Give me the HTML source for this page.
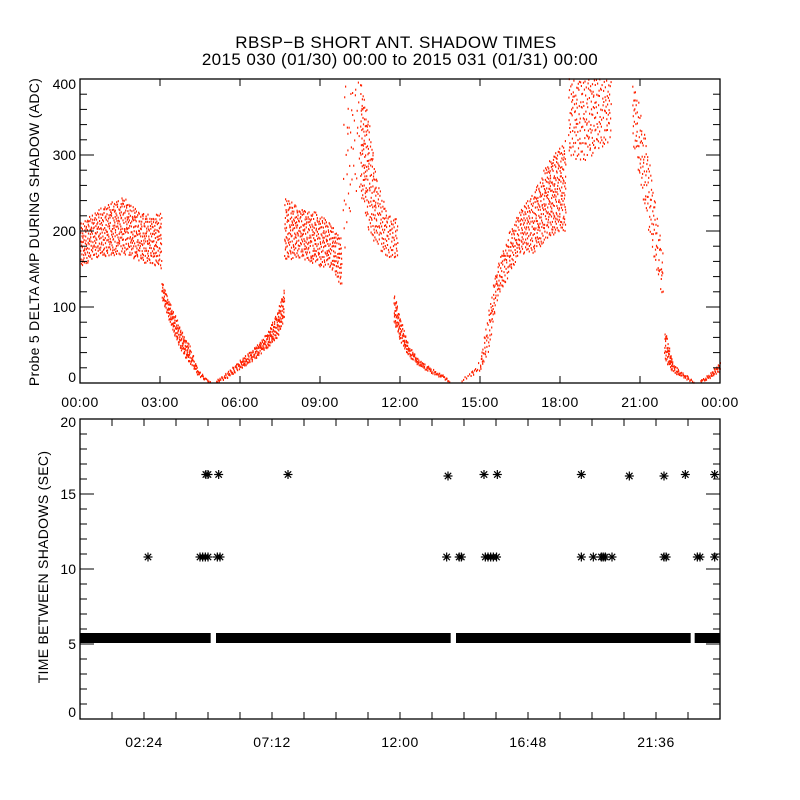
<!DOCTYPE html>
<html><head><meta charset="utf-8"><style>
body{margin:0;background:#fff}
svg{display:block;font-family:"Liberation Sans",sans-serif}
text{fill:#000}
</style></head><body>
<svg id="chart" width="800" height="800" viewBox="0 0 800 800" xmlns="http://www.w3.org/2000/svg">
<rect width="800" height="800" fill="#fff"/>
<text x="396" y="48" font-size="17" letter-spacing="0.4" text-anchor="middle">RBSP−B SHORT ANT. SHADOW TIMES</text>
<text x="400" y="65" font-size="17" letter-spacing="0.4" text-anchor="middle">2015 030 (01/30) 00:00 to 2015 031 (01/31) 00:00</text>
<g id="topPanel"></g>
<g id="botPanel"></g>
<text transform="translate(39,232) rotate(-90)" font-size="14" letter-spacing="0.3" text-anchor="middle">Probe 5 DELTA AMP DURING SHADOW (ADC)</text>
<text transform="translate(48,567) rotate(-90)" font-size="14" letter-spacing="0.3" text-anchor="middle">TIME BETWEEN SHADOWS (SEC)</text>
</svg>
<script>
// ---- top panel data: band segments (hours, low ADC, high ADC, fill fraction)
const segTimes = [
 [0,0.5,1,1.6,2.2,2.7,3.05],
 [3.05,3.3,3.6,3.9,4.1,4.4,4.7,4.88],
 [5.1,5.5,6.0,6.5,7.0,7.4,7.65],
 [7.65,8.2,8.8,9.4,9.8],
 [9.85,10.2,10.5],
 [10.5,10.8,11.1,11.5,11.9],
 [11.75,12.0,12.3,12.7,13.2,13.6,13.85],
 [14.25,14.7,15.0,15.3,15.6,16.1,16.5,17.0,17.5,18.2],
 [18.3,18.8,19.3,19.9],
 [20.7,21.0,21.3,21.6,21.85],
 [21.9,22.2,22.5,22.8,23.0],
 [23.25,23.6,24]
];
const segLow = [
 [150,165,165,170,160,155,150],
 [110,85,55,35,25,10,3,0],
 [0,6,18,30,45,60,85],
 [160,165,155,150,125],
 [150,250,250],
 [250,200,180,165,160],
 [80,55,35,22,12,6,0],
 [0,10,15,40,105,145,170,170,190,200],
 [300,290,300,320],
 [320,260,200,150,100],
 [30,15,8,3,0],
 [0,6,15]
];
const segHigh = [
 [210,225,235,245,225,220,225],
 [135,110,85,60,50,18,6,2],
 [3,14,30,45,65,95,125],
 [245,230,225,210,190],
 [390,400,400],
 [400,350,270,225,215],
 [120,85,50,30,18,10,3],
 [3,16,30,95,150,200,230,250,290,320],
 [400,400,400,400],
 [400,360,300,230,170],
 [75,28,15,8,2],
 [3,12,28]
];
const segFill = [0.28,0.55,0.55,0.28,0.04,0.2,0.55,0.25,0.14,0.14,0.55,0.6];
const topXTicks = ["00:00","03:00","06:00","09:00","12:00","15:00","18:00","21:00","00:00"];
const topYTicks = [0,100,200,300,400];

// ---- bottom panel data
const bandValue = 5.4;
const bandStart = [0,5.1,14.1,23.05];
const bandEnd = [4.9,13.9,22.9,24];
const starT = [4.72,4.8,5.2,7.8,13.8,15.15,15.65,18.8,20.6,21.9,22.7,23.8,
               2.55,4.5,4.6,4.7,4.8,5.15,5.25,13.75,14.22,14.3,15.2,15.3,15.4,15.5,15.62,18.8,19.25,19.55,19.62,19.7,19.95,21.9,21.98,23.15,23.25,23.8];
const starV = [16.3,16.3,16.3,16.3,16.2,16.3,16.3,16.3,16.2,16.2,16.3,16.3,
               10.8,10.8,10.8,10.8,10.8,10.8,10.8,10.8,10.8,10.8,10.8,10.8,10.8,10.8,10.8,10.8,10.8,10.8,10.8,10.8,10.8,10.8,10.8,10.8,10.8,10.8];
const botXLabels = ["02:24","07:12","12:00","16:48","21:36"];
const botYTicks = [0,5,10,15,20];

const NS="http://www.w3.org/2000/svg";
function mk(parent,tag,attrs){const e=document.createElementNS(NS,tag);for(const k in attrs)e.setAttribute(k,attrs[k]);parent.appendChild(e);return e;}

const X0=80,X1=720;
const T0=79,T1=383, B0=419,B1=719;
const xs=t=>X0+t/24*(X1-X0);
const yTop=v=>T1-v/400*(T1-T0);
const yBot=v=>B1-v/20*(B1-B0);

const topG=document.getElementById('topPanel');
const botG=document.getElementById('botPanel');

// ---- top panel dots
const dots=mk(topG,'g',{fill:'#ff2200'});


function halton(i,b){let f=1,r=0;while(i>0){f/=b;r+=f*(i%b);i=Math.floor(i/b);}return r;}
let hIdx=1;
for(let s=0;s<segTimes.length;s++){
  const T=segTimes[s],L=segLow[s],H=segHigh[s];
  for(let k=0;k<T.length-1;k++){
    const xa=xs(T[k]),xb=xs(T[k+1]);
    const avgH=((yTop(L[k])-yTop(H[k]))+(yTop(L[k+1])-yTop(H[k+1])))/2+2;
    const n=Math.round((xb-xa)*avgH*segFill[s]/2);
    for(let i=0;i<n;i++){
      const u=halton(hIdx,2),v=halton(hIdx,3);hIdx++;
      const t=T[k]+u*(T[k+1]-T[k]);
      const lo=L[k]+u*(L[k+1]-L[k]), hh=H[k]+u*(H[k+1]-H[k]);
      const val=lo+v*(hh-lo);
      if(val>400)continue;
      mk(dots,'rect',{x:xs(t).toFixed(1),y:(yTop(val)-1).toFixed(1),width:1.2,height:2});
    }
  }
}

function frame(g,y0,y1,name){
  const r=mk(g,'rect',{x:X0,y:y0,width:X1-X0,height:y1-y0,fill:'none',stroke:'#000','stroke-width':1.3});
  
  
}
frame(topG,T0,T1,'top-plot-frame');
frame(botG,B0,B1,'bottom-plot-frame');

topXTicks.forEach((lab,i)=>{
  const x=xs(i*3);
  mk(topG,'line',{x1:x,x2:x,y1:T1,y2:T1-7,stroke:'#000'});
  mk(topG,'line',{x1:x,x2:x,y1:T0,y2:T0+7,stroke:'#000'});
  const t=mk(topG,'text',{x:x,y:T1+24,'font-size':14,'letter-spacing':0.5,'text-anchor':'middle'});
  t.textContent=lab;
  
  
});
for(let v=0;v<=400;v+=20){
  const y=yTop(v),len=(v%100===0)?14:7;
  mk(topG,'line',{x1:X0,x2:X0+len,y1:y,y2:y,stroke:'#000'});
  mk(topG,'line',{x1:X1,x2:X1-len,y1:y,y2:y,stroke:'#000'});
}
topYTicks.forEach(v=>{
  const t=mk(topG,'text',{x:X0-4,y:Math.max(yTop(v)+5,T0+10),'font-size':14,'text-anchor':'end'});
  if(v===0)t.setAttribute('y',T1-1);
  t.textContent=v;
  
  
});

for(let i=0;i<=20;i++){
  const x=xs(i*1.2);
  mk(botG,'line',{x1:x,x2:x,y1:B1,y2:B1-7,stroke:'#000'});
  mk(botG,'line',{x1:x,x2:x,y1:B0,y2:B0+7,stroke:'#000'});
}
botXLabels.forEach((lab,i)=>{
  const t=mk(botG,'text',{x:xs(2.4+i*4.8),y:B1+28,'font-size':14,'letter-spacing':0.5,'text-anchor':'middle'});
  t.textContent=lab;
  
  
});
for(let v=0;v<=20;v++){
  const y=yBot(v),len=(v%5===0)?14:7;
  mk(botG,'line',{x1:X0,x2:X0+len,y1:y,y2:y,stroke:'#000'});
  mk(botG,'line',{x1:X1,x2:X1-len,y1:y,y2:y,stroke:'#000'});
}
botYTicks.forEach(v=>{
  const t=mk(botG,'text',{x:X0-4,y:yBot(v)+5,'font-size':14,'text-anchor':'end'});
  if(v===20)t.setAttribute('y',B0+8);
  if(v===0)t.setAttribute('y',B1-2);
  t.textContent=v;
  
  
});

const band=mk(botG,'g',{fill:'#000'});


bandStart.forEach((s,i)=>{
  const xa=xs(s),xb=xs(bandEnd[i]);
  const r=mk(band,'rect',{x:xa,y:yBot(bandValue)-5,width:Math.max(0,xb-xa),height:10});
  
  
});
const stars=mk(botG,'g',{stroke:'#000','stroke-width':1.2});


starT.forEach((t,i)=>{
  const cx=xs(t),cy=yBot(starV[i]),r=4.5,d=3.2;
  const g=mk(stars,'g',{});
  
  
  mk(g,'line',{x1:cx-r,x2:cx+r,y1:cy,y2:cy});
  mk(g,'line',{x1:cx,x2:cx,y1:cy-r,y2:cy+r});
  mk(g,'line',{x1:cx-d,x2:cx+d,y1:cy-d,y2:cy+d});
  mk(g,'line',{x1:cx-d,x2:cx+d,y1:cy+d,y2:cy-d});
});
</script>
</body></html>
